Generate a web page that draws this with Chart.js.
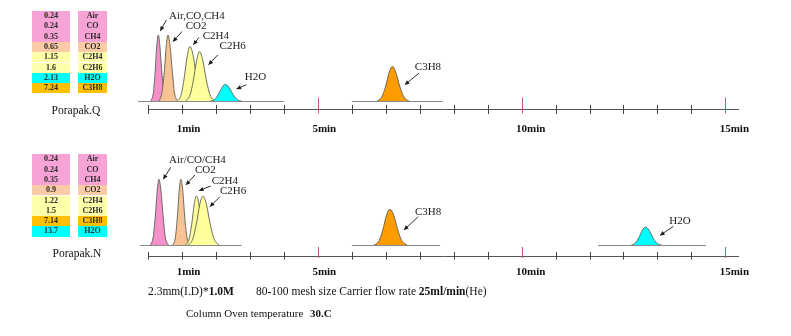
<!DOCTYPE html>
<html>
<head>
<meta charset="utf-8">
<script src="https://cdn.jsdelivr.net/npm/chart.js@4.4.1/dist/chart.umd.min.js"></script>
<style>
html,body{margin:0;padding:0;background:#fff;}
body{width:791px;height:336px;position:relative;overflow:hidden;font-family:"Liberation Serif","DejaVu Serif",serif;color:#111;}
.wrap{position:absolute;left:0;width:791px;}
.cell{position:absolute;height:10.3px;line-height:10.3px;font-size:8px;font-weight:bold;text-align:center;color:#2a2a2a;white-space:nowrap;}
.lbl{position:absolute;white-space:pre;height:14px;line-height:14px;}
</style>
</head>
<body>
<div class="wrap" style="top:0;height:145px"><canvas id="cQ" width="791" height="145"></canvas></div>
<div class="wrap" style="top:140px;height:160px"><canvas id="cN" width="791" height="160"></canvas></div>
<div id="tables"></div>
<div class="lbl" style="left:40px;width:72px;text-align:center;top:102.5px;font-size:11.5px">Porapak.Q</div>
<div class="lbl" style="left:41px;width:72px;text-align:center;top:245.7px;font-size:11.5px">Porapak.N</div>
<div class="lbl" style="left:148px;top:284px;font-size:11.5px">2.3mm(I.D)*<b>1.0M</b></div>
<div class="lbl" style="left:256px;top:284px;font-size:11.5px">80-100 mesh size Carrier flow rate <b>25ml/min</b>(He)</div>
<div class="lbl" style="left:186px;top:306px;font-size:11px">Column Oven temperature</div>
<div class="lbl" style="left:310px;top:306px;font-size:11px"><b>30.C</b></div>
<script>
// ---------------- data ----------------
const tickValues = [0,1,2,3,4,5,6,7,8,9,10,11,12,13,14,15,16,17];
const tickLabels = ['','1min','','','','5min','','','','','','10min','','','','','','15min'];
const markerTicks = [5, 11, 17];

const qTimes = ['0.24','0.24','0.35','0.65','1.15','1.6','2.13','7.24'];
const qNames = ['Air','CO','CH4','CO2','C2H4','C2H6','H2O','C3H8'];
const nTimes = ['0.24','0.24','0.35','0.9','1.22','1.5','7.14','13.7'];
const nNames = ['Air','CO','CH4','CO2','C2H4','C2H6','C3H8','H2O'];

// Porapak.Q peaks: [position on axis, signal]
const qAir  = [[0.07,0],[0.15,9],[0.2,29],[0.25,56],[0.295,66.5],[0.34,56],[0.4,29],[0.46,9],[0.54,0]];
const qCO2  = [[0.32,0],[0.4,9],[0.47,29],[0.53,56],[0.58,66.5],[0.64,56],[0.71,29],[0.77,9],[0.87,0]];
const qC2H4 = [[0.84,0],[0.97,7],[1.06,24],[1.15,46],[1.23,55],[1.32,46],[1.42,24],[1.52,7],[1.66,0]];
const qC2H6 = [[1.09,0],[1.23,6.5],[1.33,21.5],[1.43,42],[1.51,50],[1.6,42],[1.71,21.5],[1.82,6.5],[1.97,0]];
const qH2O  = [[1.8,0],[1.96,2.2],[2.07,7.4],[2.18,14.4],[2.27,17.2],[2.37,14.4],[2.49,7.4],[2.61,2.2],[2.78,0]];
const qC3H8 = [[6.72,0],[6.88,4.6],[6.99,15],[7.1,29.4],[7.19,35],[7.29,29.4],[7.41,15],[7.53,4.6],[7.7,0]];
const qBaselines = [[-0.3,4.0],[6.0,8.67]];
const qPeakLabels = ['Air,CO,CH4','CO2','C2H4','C2H6','H2O','C3H8'];

// Porapak.N peaks
const nAir  = [[0.06,0],[0.145,8.6],[0.205,28.5],[0.265,55.6],[0.315,66.2],[0.37,55.6],[0.44,28.5],[0.5,8.6],[0.6,0]];
const nCO2  = [[0.72,0],[0.8,8.6],[0.856,28.5],[0.912,55.6],[0.96,66.2],[1.013,55.6],[1.074,28.5],[1.136,8.6],[1.224,0]];
const nC2H4 = [[1.09,0],[1.2,6.4],[1.28,21.3],[1.355,41.6],[1.42,49.5],[1.49,41.6],[1.58,21.3],[1.66,6.4],[1.78,0]];
const nC2H6 = [[1.16,0],[1.31,6.4],[1.415,21.3],[1.52,41.6],[1.61,49.5],[1.71,41.6],[1.825,21.3],[1.94,6.4],[2.1,0]];
const nC3H8 = [[6.64,0],[6.8,4.7],[6.91,15.6],[7.02,30.4],[7.12,36.2],[7.23,30.4],[7.35,15.6],[7.47,4.7],[7.65,0]];
const nH2O  = [[14.2,0],[14.35,2.4],[14.455,8],[14.56,15.5],[14.65,18.5],[14.75,15.5],[14.865,8],[14.98,2.4],[15.15,0]];
const nBaselines = [[-0.25,2.75],[6.0,8.6],[13.25,16.43]];
const nPeakLabels = ['Air/CO/CH4','CO2','C2H4','C2H6','C3H8','H2O'];

// ---------------- styles ----------------
const peakColor = {Air:'#f590cb', CO2:'#f8c393', C2H4:'#ffff9c', C2H6:'#ffff9c', H2O:'#00ffff', C3H8:'#ff9c00'};
const rowColor = {Air:'#f7a3d5', CO:'#f7a3d5', CH4:'#f7a3d5', CO2:'#fbcaa6', C2H4:'#ffffa9', C2H6:'#ffffa9', H2O:'#00ffff', C3H8:'#ffc000'};

// ---------------- tables ----------------
function buildTable(times, names, top) {
  const host = document.getElementById('tables');
  times.forEach((t, i) => {
    const y = top + i * 10.3;
    const a = document.createElement('div');
    a.className = 'cell';
    a.style.cssText = `left:32.3px;width:37.5px;top:${y}px;background:${rowColor[names[i]]}`;
    a.textContent = t;
    host.appendChild(a);
    const b = document.createElement('div');
    b.className = 'cell';
    b.style.cssText = `left:77.7px;width:29.5px;top:${y}px;background:${rowColor[names[i]]}`;
    b.textContent = names[i];
    host.appendChild(b);
  });
}
buildTable(qTimes, qNames, 11);
buildTable(nTimes, nNames, 154.3);

// ---------------- plugins ----------------
function tickMarks(up, down, upM, downM) {
  return {
    id: 'tickmarks',
    afterDraw(chart) {
      const {ctx, scales: {x}} = chart;
      const yb = chart.chartArea.bottom;
      ctx.save();
      ctx.lineWidth = 1;
      x.ticks.forEach(t => {
        const px = Math.round(x.getPixelForValue(t.value)) + 0.5;
        const m = markerTicks.includes(t.value);
        ctx.strokeStyle = m ? '#c25a6e' : '#444';
        ctx.beginPath();
        ctx.moveTo(px, yb - (m ? upM : up));
        ctx.lineTo(px, yb + (m ? downM : down));
        ctx.stroke();
      });
      ctx.restore();
    }
  };
}
function callouts(items) {
  return {
    id: 'callouts',
    afterDatasetsDraw(chart) {
      const {ctx, scales: {x, y}} = chart;
      ctx.save();
      ctx.font = '11px "Liberation Serif"';
      ctx.fillStyle = '#1a1a1a';
      ctx.strokeStyle = '#1a1a1a';
      ctx.lineWidth = 0.9;
      ctx.textBaseline = 'middle';
      ctx.textAlign = 'left';
      items.forEach(it => {
        const apex = it.peak.reduce((a, b) => b[1] > a[1] ? b : a);
        const ax = x.getPixelForValue(apex[0]), ay = y.getPixelForValue(apex[1]);
        const hx = ax + it.head[0], hy = ay + it.head[1];
        const tx = ax + it.tail[0], ty = ay + it.tail[1];
        ctx.beginPath(); ctx.moveTo(tx, ty); ctx.lineTo(hx, hy); ctx.stroke();
        const ang = Math.atan2(hy - ty, hx - tx), L = 4.5, W = 2.2;
        ctx.beginPath();
        ctx.moveTo(hx, hy);
        ctx.lineTo(hx - L * Math.cos(ang) + W * Math.sin(ang), hy - L * Math.sin(ang) - W * Math.cos(ang));
        ctx.lineTo(hx - L * Math.cos(ang) - W * Math.sin(ang), hy - L * Math.sin(ang) + W * Math.cos(ang));
        ctx.closePath(); ctx.fill();
        ctx.fillText(it.text, ax + it.label[0], ay + it.label[1]);
      });
      ctx.restore();
    }
  };
}

// ---------------- panels ----------------
function makePanel(id, cfg) {
  const datasets = [];
  cfg.baselines.forEach(([a, b]) => datasets.push({
    data: [{x: a, y: 0}, {x: b, y: 0}], borderColor: '#8a8a8a', borderWidth: 1,
    pointRadius: 0, fill: false, clip: false, order: -1
  }));
  cfg.peaks.forEach((pk, i) => datasets.push({
    data: pk.data.map(([x, y]) => ({x, y})), backgroundColor: peakColor[pk.name],
    borderColor: '#5e5e52', borderWidth: 0.9, pointRadius: 0, fill: 'origin',
    cubicInterpolationMode: 'monotone', clip: false, order: 50 - i
  }));
  return new Chart(document.getElementById(id), {
    type: 'line',
    data: {datasets},
    options: {
      responsive: false, animation: false, events: [],
      layout: {padding: {left: 148.3, right: 53, top: cfg.padTop, bottom: 0}},
      plugins: {legend: {display: false}, tooltip: {enabled: false}},
      scales: {
        x: {
          type: 'linear', min: 0, max: 17.375,
          afterBuildTicks: s => { s.ticks = tickValues.map(v => ({value: v})); },
          afterFit: s => { s.height = cfg.axisH; },
          ticks: {
            autoSkip: false, maxRotation: 0, minRotation: 0, align: 'start', labelOffset: -5.6,
            padding: cfg.labelPad, color: '#111',
            font: {family: 'Liberation Serif', size: 11, weight: 'bold'},
            callback: (v, i) => tickLabels[i] || ''
          },
          grid: {display: true, drawOnChartArea: false, drawTicks: false},
          border: {display: true, color: '#555', width: 1}
        },
        y: {display: false, min: cfg.yMin, max: cfg.yMax}
      }
    },
    plugins: [tickMarks(cfg.tk[0], cfg.tk[1], cfg.tk[2], cfg.tk[3]), callouts(cfg.callouts)]
  });
}

makePanel('cQ', {
  baselines: qBaselines,
  peaks: [
    {name: 'Air', data: qAir}, {name: 'CO2', data: qCO2}, {name: 'C2H4', data: qC2H4},
    {name: 'C2H6', data: qC2H6}, {name: 'H2O', data: qH2O}, {name: 'C3H8', data: qC3H8}
  ],
  padTop: 21.5, axisH: 35.5, yMin: -8, yMax: 80, labelPad: 13, tk: [4.5, 4.5, 12, 4],
  callouts: [
    {text: qPeakLabels[0], peak: qAir,  head: [2, -4],     tail: [8, -15],    label: [10.7, -19.3]},
    {text: qPeakLabels[1], peak: qCO2,  head: [5, 6.7],    tail: [14, -3.5],  label: [17.7, -9]},
    {text: qPeakLabels[2], peak: qC2H4, head: [3.3, -1.7], tail: [9, -9],     label: [12.7, -10.7]},
    {text: qPeakLabels[3], peak: qC2H6, head: [9, 13.3],   tail: [18.3, 3.3], label: [20, -5]},
    {text: qPeakLabels[4], peak: qH2O,  head: [11.2, 4.7], tail: [21, 0.5],   label: [19.5, -7]},
    {text: qPeakLabels[5], peak: qC3H8, head: [12.5, 18.3],tail: [26.8, 6.6], label: [22.5, 0.6]}
  ]
});

makePanel('cN', {
  baselines: nBaselines,
  peaks: [
    {name: 'Air', data: nAir}, {name: 'CO2', data: nCO2}, {name: 'C2H4', data: nC2H4},
    {name: 'C2H6', data: nC2H6}, {name: 'C3H8', data: nC3H8}, {name: 'H2O', data: nH2O}
  ],
  padTop: 25.5, axisH: 44, yMin: -10.5, yMax: 80, labelPad: 10, tk: [4, 3.5, 9, 2],
  callouts: [
    {text: nPeakLabels[0], peak: nAir,  head: [4.3, 0],    tail: [11.7, -12], label: [10, -19.3]},
    {text: nPeakLabels[1], peak: nCO2,  head: [5, 5.7],    tail: [14, -4.3],  label: [14, -9.3]},
    {text: nPeakLabels[2], peak: nC2H4, head: [2.5, -5.3], tail: [14.2, -10], label: [15.2, -15]},
    {text: nPeakLabels[3], peak: nC2H6, head: [7, 10.7],   tail: [17, 0.7],   label: [17, -5]},
    {text: nPeakLabels[4], peak: nC3H8, head: [14, 20.7],  tail: [28.3, 7.4], label: [25, 2.4]},
    {text: nPeakLabels[5], peak: nH2O,  head: [14.5, 8.4], tail: [27.8, -0.6],label: [23.8, -5.6]}
  ]
});
</script>
</body>
</html>
